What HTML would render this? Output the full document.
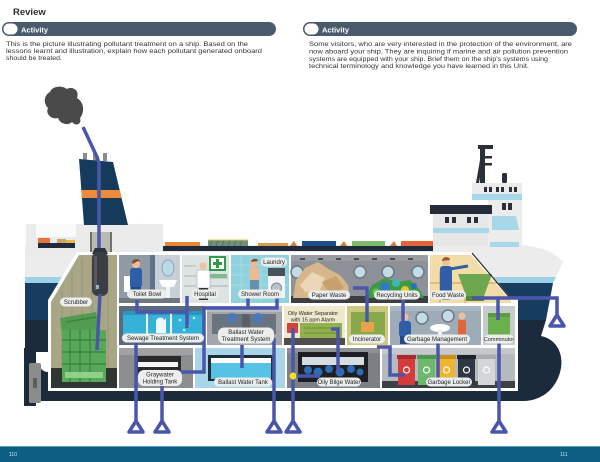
<!DOCTYPE html>
<html><head><meta charset="utf-8"><style>
html,body{margin:0;padding:0;background:#fff;}
svg{display:block;}
text{font-family:"Liberation Sans",Arial,sans-serif;}
</style></head><body>
<svg width="600" height="462" viewBox="0 0 600 462" xmlns="http://www.w3.org/2000/svg">
<!-- Header -->
<text x="13" y="15" font-size="9.5" font-weight="bold" fill="#2d2d2d">Review</text>
<rect x="2" y="22" width="274" height="14" rx="7" fill="#4a5a6d"/>
<rect x="3.5" y="23.5" width="14" height="11" rx="5.5" fill="#fff"/>
<text x="21" y="32.3" font-size="7.5" font-weight="bold" fill="#fff">Activity</text>
<g font-size="6.8" fill="#333">
<text x="6" y="46" textLength="242" lengthAdjust="spacingAndGlyphs">This is the picture illustrating pollutant treatment on a ship. Based on the</text>
<text x="6" y="53" textLength="256" lengthAdjust="spacingAndGlyphs">lessons learnt and illustration, explain how each pollutant generated onboard</text>
<text x="6" y="60" textLength="56" lengthAdjust="spacingAndGlyphs">should be treated.</text>
</g>
<rect x="303" y="22" width="274" height="14" rx="7" fill="#4a5a6d"/>
<rect x="304.5" y="23.5" width="14" height="11" rx="5.5" fill="#fff"/>
<text x="322" y="32.3" font-size="7.5" font-weight="bold" fill="#fff">Activity</text>
<g font-size="6.8" fill="#333">
<text x="309" y="46" textLength="263" lengthAdjust="spacingAndGlyphs">Some visitors, who are very interested in the protection of the environment, are</text>
<text x="309" y="53.5" textLength="259" lengthAdjust="spacingAndGlyphs">now aboard your ship. They are inquiring if marine and air pollution prevention</text>
<text x="309" y="61" textLength="239" lengthAdjust="spacingAndGlyphs">systems are equipped with your ship. Brief them on the ship's systems using</text>
<text x="309" y="68" textLength="220" lengthAdjust="spacingAndGlyphs">technical terminology and knowledge you have learned in this Unit.</text>
</g>

<!-- Smoke -->
<path d="M50,92 C52,86 62,85 67,89 C72,86 80,90 77,98 C84,102 85,112 80,118 C82,124 76,127 72,122 C68,126 60,124 58,118 C52,120 45,114 48,108 C43,103 44,95 50,92 Z" fill="#4a4a4a"/>

<!-- Hull -->
<path d="M25,245 L518,245 C540,246 555,252 563,262 L556,277 L25,277 Z" fill="#ececec"/>
<path d="M25,277 L556,277 L553,283 L25,283 Z" fill="#9dd2e6"/>
<path d="M25,283 L553,283 L546,320 L25,320 Z" fill="#163d60"/>
<path d="M25,320 L546,320 L541,336 C560,340 566,360 558,378 C552,392 540,400 525,401 L40,401 L40,352 L25,352 Z" fill="#1c2b3b"/>
<rect x="24" y="348" width="12" height="58" fill="#1c2b3b"/>
<path d="M36,352 L48,352 L48,372 C42,372 38,366 36,360 Z" fill="#fff"/>
<rect x="29" y="363" width="12" height="40" rx="2" fill="#8c8c8c"/>
<rect x="33" y="378" width="4" height="10" fill="#5e5e5e"/>

<!-- Left superstructure -->
<rect x="26" y="224" width="137" height="30" fill="#ebebeb"/>
<rect x="36" y="224" width="40" height="13" fill="#fafafa"/>
<rect x="38" y="243" width="37" height="5" fill="#1f2b3d"/>
<rect x="38" y="238" width="12" height="5" fill="#e8743a"/>
<rect x="57" y="239" width="9" height="4" fill="#c9a46a"/>
<rect x="66" y="240" width="9" height="3" fill="#e8b84a"/>
<rect x="90" y="232" width="22" height="23" fill="#b9bab4"/>
<rect x="90" y="232" width="2" height="23" fill="#6f716c"/>
<rect x="110" y="232" width="2" height="23" fill="#6f716c"/>

<!-- Funnel -->
<rect x="83" y="153" width="4" height="7" fill="#8a8d90"/>
<rect x="93" y="153" width="4" height="8" fill="#8a8d90"/>
<rect x="103" y="153" width="4" height="8" fill="#8a8d90"/>
<polygon points="79,159 113,162 128,225 84,225" fill="#163a5c"/>
<polygon points="81.3,190 119.7,190 121.6,198 82,198" fill="#ef8a3a"/>

<!-- Main deck -->
<rect x="163" y="246" width="270" height="5" fill="#1e2a3a"/>
<rect x="165" y="242" width="35" height="4" fill="#e8863a"/>
<rect x="208" y="240" width="40" height="6" fill="#6f8f7c"/>
<g stroke="#4d6a5a" stroke-width="0.8"><line x1="212" y1="240" x2="210" y2="246"/><line x1="218" y1="240" x2="216" y2="246"/><line x1="224" y1="240" x2="222" y2="246"/><line x1="230" y1="240" x2="228" y2="246"/><line x1="236" y1="240" x2="234" y2="246"/><line x1="242" y1="240" x2="240" y2="246"/></g>
<rect x="208" y="239.5" width="40" height="1" fill="#e2c64a"/>
<rect x="258" y="243" width="30" height="3" fill="#d69a4c"/>
<polygon points="290,246 294,241 297,246" fill="#d57a3a"/>
<rect x="302" y="241" width="34" height="5" fill="#1f4f8a"/>
<polygon points="340,246 344,241 347,246" fill="#d57a3a"/>
<rect x="352" y="241" width="33" height="5" fill="#7dbb6a"/>
<polygon points="390,246 394,241 397,246" fill="#d57a3a"/>
<rect x="401" y="241" width="32" height="5" fill="#e5613a"/>

<!-- Bridge -->
<rect x="433" y="213" width="89" height="33" fill="#e7e7e7"/>
<rect x="472" y="183" width="50" height="12" fill="#ebebeb"/>
<g fill="#2b2f3a"><rect x="484" y="187" width="3" height="5"/><rect x="489" y="187" width="3" height="5"/><rect x="496" y="187" width="3" height="5"/><rect x="501" y="187" width="3" height="5"/><rect x="509" y="187" width="3" height="5"/><rect x="514" y="187" width="3" height="5"/></g>
<rect x="472" y="194" width="50" height="6" fill="#a6d8ea"/>
<rect x="488" y="200" width="34" height="46" fill="#ececec"/>
<rect x="502" y="203" width="4" height="7" fill="#2b2f3a"/><rect x="508" y="203" width="4" height="7" fill="#2b2f3a"/>
<path d="M492,216 L516,216 L519,230 L492,230 Z" fill="#a6d8ea"/>
<rect x="490" y="242" width="29" height="5" fill="#a6d8ea"/>
<rect x="430" y="205" width="62" height="9" fill="#262b38"/>
<g fill="#2b2f3a"><rect x="445" y="217" width="4" height="6"/><rect x="452" y="217" width="4" height="6"/><rect x="467" y="217" width="4" height="6"/><rect x="474" y="217" width="4" height="6"/></g>
<rect x="433" y="228" width="56" height="5" fill="#a6d8ea"/>
<rect x="480" y="147" width="5" height="36" fill="#2b2f3a"/>
<rect x="478" y="145" width="15" height="4" fill="#2b2f3a"/>
<rect x="484" y="156" width="8" height="2.5" fill="#2b2f3a"/>
<rect x="484" y="163" width="8" height="2.5" fill="#2b2f3a"/>
<polygon points="480,160 483,160 479,183 476,183" fill="#2b2f3a"/>
<rect x="502" y="173" width="5" height="10" rx="1.5" fill="#2b2f3a"/>

<!-- Smoke pipe -->
<path d="M83,127 L97,157 L99,163 L99,252" fill="none" stroke="#4a56ab" stroke-width="3.5"/>

<!-- Compartment frame -->
<polygon points="48,391 48,300 77,252 472,252 511,298 518,298 518,391" fill="#fff"/>

<!-- Scrubber room -->
<polygon points="51,388 51,302 79,255 117,255 117,388" fill="#a9a686"/>
<g stroke="#96937a" stroke-width="1"><line x1="62" y1="290" x2="62" y2="368"/><line x1="72" y1="272" x2="72" y2="368"/><line x1="82" y1="258" x2="82" y2="368"/><line x1="92" y1="258" x2="92" y2="368"/><line x1="108" y1="258" x2="108" y2="368"/></g>
<rect x="51" y="368" width="66" height="20" fill="#2f3530"/>
<polygon points="60,318 96,312 100,330 62,336" fill="#4f9c52"/>
<rect x="62" y="330" width="44" height="52" fill="#58a85a"/>
<g stroke="#3b7f3f" stroke-width="1.2"><line x1="62" y1="340" x2="106" y2="340"/><line x1="62" y1="352" x2="106" y2="352"/><line x1="62" y1="364" x2="106" y2="364"/><line x1="70" y1="330" x2="70" y2="382"/><line x1="80" y1="330" x2="80" y2="382"/><line x1="90" y1="330" x2="90" y2="382"/><line x1="66" y1="322" x2="96" y2="317"/></g>
<rect x="65" y="372" width="38" height="6" fill="#8fd08a"/>

<!-- Toilet -->
<rect x="119" y="255" width="61" height="48" fill="#a9b2ba"/>
<rect x="119" y="255" width="32" height="48" fill="#8f9aa6"/>
<rect x="150" y="255" width="5" height="48" fill="#5f7088"/>
<rect x="155" y="255" width="25" height="48" fill="#c7d0d6"/>
<ellipse cx="168" cy="268" rx="6" ry="8" fill="#bcd9e8" stroke="#8aa3b0" stroke-width="1"/>
<path d="M159,280 L177,280 L174,287 L162,287 Z" fill="#fff"/>
<rect x="166" y="287" width="4" height="12" fill="#f3f3f3"/>
<rect x="124" y="276" width="6" height="16" fill="#fff"/>
<circle cx="136" cy="264" r="4" fill="#f0c09a"/>
<path d="M132,263 C132,258 140,258 140,262 L138,261 L133,264 Z" fill="#8a4a2a"/>
<rect x="130" y="268" width="12" height="20" rx="3" fill="#2d5ea8"/>
<rect x="131" y="287" width="10" height="8" fill="#224a88"/>
<rect x="119" y="298" width="61" height="5" fill="#6f7880"/>

<!-- Hospital -->
<rect x="182" y="255" width="47" height="48" fill="#dde4e3"/>
<g stroke="#aab5b5" stroke-width="1"><line x1="184" y1="266" x2="196" y2="266"/><line x1="184" y1="276" x2="196" y2="276"/><line x1="184" y1="286" x2="196" y2="286"/><line x1="210" y1="278" x2="228" y2="278"/><line x1="210" y1="286" x2="228" y2="286"/></g>
<rect x="210" y="274" width="17" height="4" fill="#7dbd8a"/>
<circle cx="203" cy="266" r="3.5" fill="#f0c09a"/>
<rect x="197" y="270" width="13" height="18" fill="#fff" stroke="#9ab" stroke-width="0.6"/>
<rect x="199" y="288" width="9" height="12" fill="#333"/>
<rect x="209" y="256" width="17" height="15" fill="#2f9a48"/>
<rect x="211" y="258" width="13" height="11" fill="#fff"/>
<rect x="216" y="259" width="3" height="9" fill="#2f9a48"/>
<rect x="213" y="262" width="9" height="3" fill="#2f9a48"/>

<!-- Shower -->
<rect x="231" y="255" width="58" height="48" fill="#8fd2de"/>
<g stroke="#abdde6" stroke-width="0.8"><line x1="231" y1="265" x2="289" y2="265"/><line x1="231" y1="275" x2="289" y2="275"/><line x1="231" y1="285" x2="289" y2="285"/><line x1="241" y1="255" x2="241" y2="303"/><line x1="251" y1="255" x2="251" y2="303"/><line x1="261" y1="255" x2="261" y2="303"/></g>
<circle cx="254" cy="264" r="3.5" fill="#f0b98f"/>
<path d="M251,262 C251,258 258,258 258,261 Z" fill="#8a4a2a"/>
<rect x="250" y="268" width="9" height="12" fill="#f0b98f"/>
<rect x="250" y="280" width="9" height="11" fill="#6b8fa8"/>
<rect x="268" y="268" width="17" height="8" fill="#4a5058"/>
<rect x="268" y="276" width="17" height="22" fill="#f2f4f5"/>
<circle cx="276.5" cy="288" r="5" fill="#b8c4cc" stroke="#7f8a92" stroke-width="1"/>

<!-- Paper / recycling -->
<rect x="291" y="255" width="137" height="48" fill="#8e9298"/>
<rect x="291" y="255" width="137" height="6" fill="#9a9ea3"/>
<g fill="#4a4d52"><rect x="300" y="258" width="5" height="2"/><rect x="318" y="258" width="5" height="2"/><rect x="336" y="258" width="5" height="2"/><rect x="354" y="258" width="5" height="2"/><rect x="372" y="258" width="5" height="2"/><rect x="390" y="258" width="5" height="2"/><rect x="408" y="258" width="5" height="2"/></g>
<g fill="#c3dbe7" stroke="#6d7780" stroke-width="1.5"><circle cx="297" cy="272" r="6"/><circle cx="360" cy="272" r="6"/><circle cx="388" cy="272" r="6"/><circle cx="418" cy="272" r="6"/></g>
<rect x="291" y="296" width="137" height="7" fill="#3c3e42"/>
<polygon points="293,298 296,280 305,268 318,262 330,270 340,275 348,285 350,298" fill="#d6b68a"/>
<polygon points="300,285 312,272 325,278 320,290 305,292" fill="#ebd6b5"/>
<polygon points="322,282 336,276 344,288 330,294" fill="#c99f6e"/>
<polygon points="365,298 372,285 385,278 398,282 410,280 420,290 424,298" fill="#3d9b48"/>
<circle cx="385" cy="287" r="5" fill="#3478c8"/>
<circle cx="405" cy="290" r="4" fill="#e5c530"/>
<circle cx="396" cy="283" r="4" fill="#3cb8b0"/>
<circle cx="376" cy="292" r="3.5" fill="#6bc25a"/>
<circle cx="414" cy="286" r="3" fill="#2d6fb8"/>

<!-- Food waste -->
<polygon points="430,255 471,255 511,301 511,303 430,303" fill="#f2dca8"/>
<g stroke="#c89a5a" stroke-width="1"><line x1="430" y1="283" x2="498" y2="283"/><line x1="440" y1="270" x2="440" y2="303"/><line x1="465" y1="283" x2="465" y2="303"/></g>
<polygon points="458,274 492,274 484,296 466,296" fill="#6fa74e"/>
<rect x="466" y="296" width="18" height="5" fill="#4f8a38"/>
<circle cx="446" cy="262" r="4" fill="#f0c09a"/>
<path d="M442,261 C442,256 450,256 450,260 Z" fill="#9a5a30"/>
<rect x="440" y="266" width="12" height="34" rx="3" fill="#2f5ea6"/>
<line x1="450" y1="269" x2="468" y2="266" stroke="#2f5ea6" stroke-width="3"/>
<line x1="472" y1="253" x2="511" y2="299" stroke="#2a2a2a" stroke-width="1.2"/>

<!-- Sewage -->
<rect x="119" y="306" width="86" height="39" fill="#5b6b7b"/>
<rect x="123" y="311" width="80" height="26" fill="#36b2d8"/>
<rect x="123" y="311" width="80" height="4" fill="#2a95bd"/>
<rect x="146" y="311" width="2" height="26" fill="#e8f6fb"/>
<rect x="170" y="311" width="2" height="26" fill="#e8f6fb"/>
<path d="M156,333 L156,322 C156,317 163,316 164,320 L166,318 L166,333 Z" fill="#eef8fb"/>
<g fill="#bfe8f5"><circle cx="180" cy="320" r="1.3"/><circle cx="188" cy="326" r="1.3"/><circle cx="194" cy="318" r="1.3"/><circle cx="184" cy="330" r="1.3"/></g>

<!-- BWTS -->
<rect x="207" y="306" width="75" height="39" fill="#a2a6aa"/>
<rect x="207" y="306" width="75" height="6" fill="#b8bcc0"/>
<rect x="212" y="314" width="64" height="20" fill="#6a7480"/>
<circle cx="232" cy="318" r="5" fill="#4a78b8"/>
<circle cx="258" cy="318" r="5" fill="#4a78b8"/>
<rect x="242" y="314" width="8" height="18" fill="#58606b"/>

<!-- OWS -->
<rect x="284" y="306" width="61" height="39" fill="#efe8cd"/>
<rect x="284" y="338" width="61" height="7" fill="#4e4e4e"/>
<rect x="300" y="323" width="42" height="15" fill="#93b04e"/>
<g stroke="#6f8a36" stroke-width="1"><line x1="304" y1="328" x2="338" y2="328"/><line x1="304" y1="333" x2="338" y2="333"/></g>
<rect x="287" y="323" width="11" height="10" fill="#d4443a"/>
<g font-size="5.4" fill="#222" text-anchor="middle">
<text x="313" y="315">Oily Water Separator</text>
<text x="313" y="321.5">with 15 ppm Alarm</text>
</g>

<!-- Incinerator -->
<rect x="347" y="306" width="41" height="39" fill="#cdc87e"/>
<rect x="351" y="312" width="34" height="27" fill="#88a94a"/>
<rect x="361" y="322" width="13" height="10" fill="#e6a54c"/>

<!-- Garbage management -->
<rect x="390" y="306" width="91" height="39" fill="#9eacb7"/>
<rect x="390" y="306" width="91" height="5" fill="#aab6c0"/>
<g fill="#c3dbe7" stroke="#6d7780" stroke-width="1.5"><circle cx="422" cy="318" r="6"/><circle cx="448" cy="316" r="6"/></g>
<circle cx="405" cy="317" r="3.5" fill="#f0c09a"/>
<rect x="399" y="321" width="12" height="16" rx="3" fill="#2f5ea6"/>
<rect x="400" y="336" width="10" height="8" fill="#24498a"/>
<ellipse cx="440" cy="328" rx="10" ry="4" fill="#fff"/>
<rect x="438" y="330" width="4" height="10" fill="#eee"/>
<circle cx="462" cy="316" r="3.5" fill="#f0c09a"/>
<rect x="458" y="320" width="8" height="23" rx="2" fill="#e0653a"/>

<!-- Comminutor -->
<rect x="483" y="306" width="32" height="39" fill="#c6cbcc"/>
<rect x="488" y="313" width="22" height="25" rx="2" fill="#6ab04c"/>
<rect x="488" y="313" width="22" height="4" fill="#5a9a40"/>

<!-- Graywater -->
<rect x="119" y="348" width="74" height="40" fill="#8c8e90"/>
<rect x="119" y="348" width="74" height="7" fill="#a0a2a4"/>
<rect x="135" y="356" width="46" height="20" fill="#2a2a2a"/>
<rect x="138" y="362" width="40" height="5" fill="#f5f5f5"/>

<!-- Ballast water tank -->
<rect x="195" y="348" width="90" height="40" fill="#a8d5e7"/>
<rect x="208" y="355" width="66" height="26" fill="#1e2d3c"/>
<rect x="211" y="358" width="60" height="21" fill="#ffffff"/>
<rect x="211" y="363" width="60" height="16" fill="#55c2e6"/>

<!-- Oily bilge -->
<rect x="287" y="348" width="93" height="40" fill="#7c8085"/>
<rect x="287" y="348" width="93" height="5" fill="#8e9297"/>
<rect x="298" y="352" width="70" height="30" fill="#1d1f23"/>
<rect x="302" y="357" width="62" height="8" fill="#d5dde3"/>
<g fill="#2e6cb4"><circle cx="308" cy="370" r="4"/><circle cx="318" cy="372" r="4.5"/><circle cx="329" cy="369" r="4"/><circle cx="340" cy="372" r="4.5"/><circle cx="351" cy="369" r="4"/><circle cx="360" cy="372" r="3.5"/></g>

<!-- Garbage locker -->
<rect x="382" y="348" width="133" height="40" fill="#b5babe"/>
<rect x="382" y="348" width="133" height="6" fill="#c5c9cc"/>
<rect x="382" y="381" width="133" height="7" fill="#3d4045"/>
<rect x="398" y="358" width="17" height="27" fill="#d63b3b"/><rect x="397" y="355" width="19" height="4" fill="#a82a2a"/>
<rect x="418" y="358" width="17" height="27" fill="#6db86d"/><rect x="417" y="355" width="19" height="4" fill="#4e9650"/>
<rect x="438" y="358" width="17" height="27" fill="#f0b431"/><rect x="437" y="355" width="19" height="4" fill="#c98e1c"/>
<rect x="458" y="358" width="17" height="27" fill="#2f3742"/><rect x="457" y="355" width="19" height="4" fill="#1d232b"/>
<rect x="478" y="358" width="17" height="27" fill="#d4d6d8"/><rect x="477" y="355" width="19" height="4" fill="#a9acaf"/>
<g fill="none" stroke="#fff" stroke-width="1.2"><circle cx="406.5" cy="370" r="3"/><circle cx="426.5" cy="370" r="3"/><circle cx="446.5" cy="370" r="3"/><circle cx="466.5" cy="370" r="3"/><circle cx="486.5" cy="370" r="3"/></g>

<!-- Scrubber capsule -->
<polygon points="95,248 105,248 108,254 92,254" fill="#2e3136"/>
<rect x="92" y="252" width="16" height="44" rx="6" fill="#3b3e44"/>
<rect x="94" y="256" width="3" height="34" fill="#55595f"/>
<rect x="96" y="285" width="3" height="4" fill="#8fb3d6"/>

<!-- Pipes -->
<g fill="none" stroke="#4a56ab" stroke-width="3.5" stroke-linejoin="miter">
<path d="M100,294 L97,350"/>
<path d="M137,300 L137,312 L187,312"/>
<path d="M187,296 L187,328"/>
<path d="M248,298 L248,308"/>
<path d="M277,296 L277,308 L204,308 L204,372 L177,372"/>
<path d="M136,340 L136,421"/>
<path d="M162,383 L162,421"/>
<path d="M242,345 L242,368"/>
<path d="M274,338 L274,421"/>
<path d="M293,328 L293,421"/>
<path d="M293,376 L320,376"/>
<path d="M338,372 L338,329 L331,329"/>
<path d="M353,288 L367,288 L367,322"/>
<path d="M403,293 L403,322"/>
<path d="M377,347 L390,347 L390,375 L405,375"/>
<path d="M438,342 L438,378"/>
<path d="M472,298 L557,298 L557,315"/>
<path d="M498,298 L498,320"/>
<path d="M499,343 L499,421"/>
</g>
<g fill="#fff" stroke="#4a56ab" stroke-width="3.5" stroke-linejoin="round">
<polygon points="136,421 129,432 143,432"/>
<polygon points="162,421 155,432 169,432"/>
<polygon points="274,421 267,432 281,432"/>
<polygon points="293,421 286,432 300,432"/>
<polygon points="499,421 492,432 506,432"/>
<polygon points="557,315 550,326 564,326"/>
</g>
<circle cx="293" cy="376" r="3.5" fill="#f3e11c"/>

<!-- Labels -->
<g font-size="6" fill="#222" text-anchor="middle">
<rect x="60" y="297.5" width="32" height="9" rx="4.5" fill="#eceeee"/><text x="76" y="304">Scrubber</text>
<rect x="127" y="289.5" width="40" height="9" rx="4.5" fill="#eceeee"/><text x="147" y="296">Toilet Bowl</text>
<rect x="191" y="289.5" width="28" height="9" rx="4.5" fill="#eceeee"/><text x="205" y="296">Hospital</text>
<rect x="238" y="289.5" width="44" height="9" rx="4.5" fill="#eceeee"/><text x="260" y="296">Shower Room</text>
<rect x="261" y="257.5" width="26" height="9" rx="4.5" fill="#eceeee"/><text x="274" y="264">Laundry</text>
<rect x="308" y="290.5" width="42" height="9" rx="4.5" fill="#eceeee"/><text x="329" y="297">Paper Waste</text>
<rect x="374" y="290.5" width="46" height="9" rx="4.5" fill="#eceeee"/><text x="397" y="297">Recycling Units</text>
<rect x="430" y="290.5" width="36" height="9" rx="4.5" fill="#eceeee"/><text x="448" y="297">Food Waste</text>
<rect x="122" y="333.5" width="82" height="9" rx="4.5" fill="#eceeee"/><text x="163" y="340">Sewage Treatment System</text>
<rect x="218" y="327.5" width="56" height="16" rx="6" fill="#eceeee"/><text x="246" y="334">Ballast Water</text><text x="246" y="341">Treatment System</text>
<rect x="349" y="334.5" width="36" height="9" rx="4.5" fill="#eceeee"/><text x="367" y="341">Incinerator</text>
<rect x="404" y="334.5" width="66" height="9" rx="4.5" fill="#eceeee"/><text x="437" y="341">Garbage Management</text>
<rect x="484" y="334.5" width="30" height="9" rx="4.5" fill="#eceeee"/><text x="499" y="341" font-size="5.6">Comminutor</text>
<rect x="138" y="370" width="44" height="16" rx="6" fill="#eceeee"/><text x="160" y="376.5">Graywater</text><text x="160" y="383.5">Holding Tank</text>
<rect x="214" y="377.5" width="58" height="9" rx="4.5" fill="#eceeee"/><text x="243" y="384">Ballast Water Tank</text>
<rect x="317" y="377.5" width="44" height="9" rx="4.5" fill="#eceeee"/><text x="339" y="384">Oily Bilge Water</text>
<rect x="426" y="377.5" width="46" height="9" rx="4.5" fill="#eceeee"/><text x="449" y="384">Garbage Locker</text>
</g>

<!-- Footer -->
<rect x="0" y="446" width="600" height="16" fill="#0c5f82"/>
<rect x="0" y="446" width="600" height="1" fill="#5d9fba"/>
<text x="9" y="456" font-size="5" fill="#cfe0ea">110</text>
<text x="560" y="456" font-size="5" fill="#cfe0ea">111</text>
</svg>
</body></html>
